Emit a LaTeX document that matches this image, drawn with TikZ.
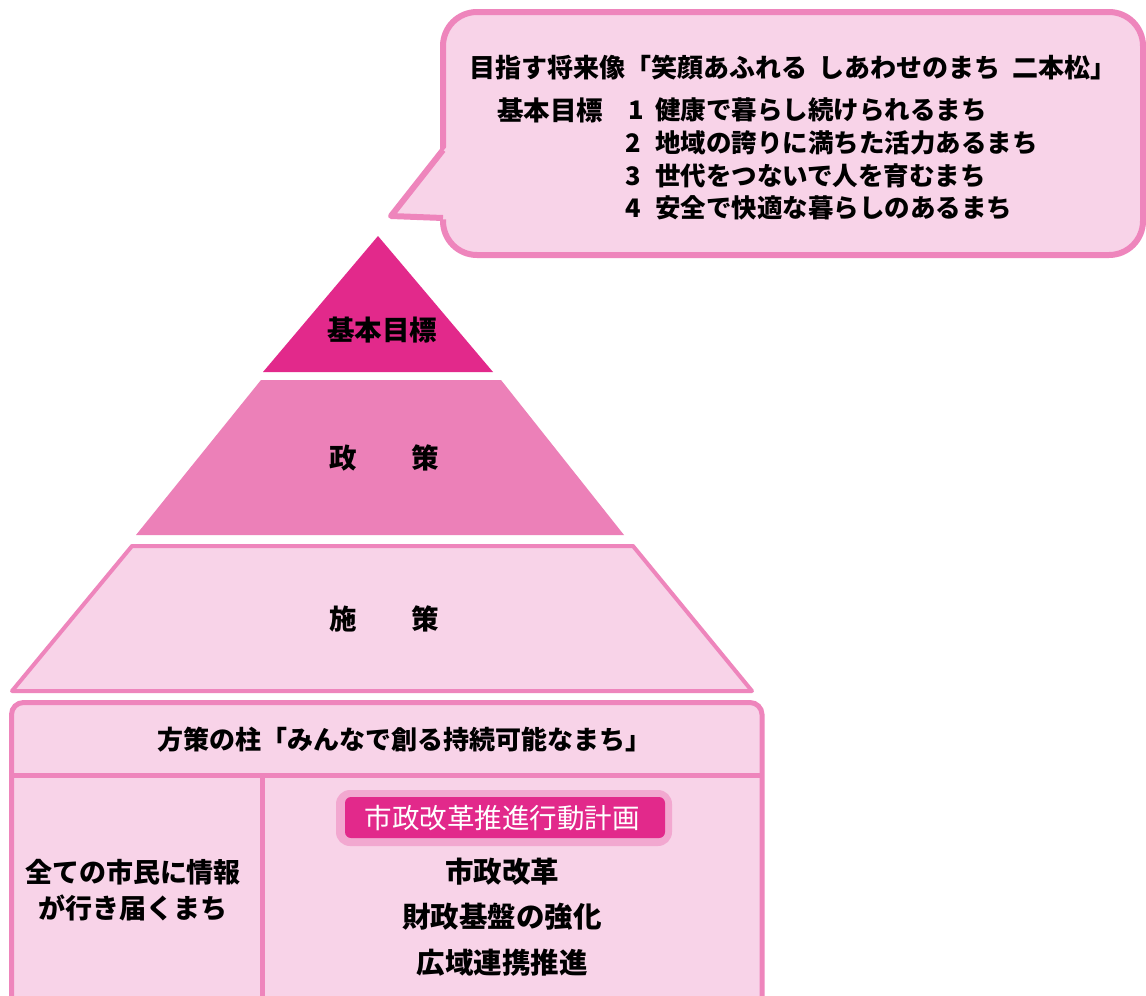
\documentclass[tikz,border=0pt]{standalone}
\usepackage{fontspec}
\setmainfont{Noto Sans CJK JP}
\definecolor{mag}{HTML}{E2298B}
\definecolor{mid}{HTML}{EC80B8}
\definecolor{lite}{HTML}{F8D3E8}
\definecolor{bord}{HTML}{EE85BC}
\definecolor{halo}{HTML}{F2A8D0}
\tikzset{
  bubble/.style={draw=bord, line width=6pt, fill=lite, rounded corners=34pt},
  boxst/.style={draw=bord, line width=5pt, fill=lite, rounded corners=12pt},
  divider/.style={draw=bord, line width=5pt},
  txt/.style={inner sep=0pt, text=black, font=\bfseries\fontsize{#1}{#1}\selectfont},
  txt/.default=25.5,
  pilltxt/.style={inner sep=0pt, text=white, font=\fontsize{27.5}{28}\selectfont}
}
\begin{document}
\begin{tikzpicture}[x=1pt,y=-1pt]
\useasboundingbox (0,0) rectangle (1146,996);
\clip (0,0) rectangle (1146,996);
\fill[white] (0,0) rectangle (1146,996);

% speech bubble
\draw[bubble] (443,12) rectangle (1143,255);
\fill[lite] (447.5,146) -- (388,216) -- (447.5,219.5) -- cycle;
\draw[bord, line width=6pt, line join=round] (443,150) -- (391,216) -- (443,218);

\node[txt=26] (vision) at (793,68) {目指す将来像「笑顔あふれる\hspace{0.45em}しあわせのまち\hspace{0.45em}二本松」};
\node[txt=26.5, anchor=west] (goalhead) at (497,110) {基本目標};
\node[txt, anchor=west] (num1) at (628,110) {1};
\node[txt, anchor=west] (goal1) at (655,110) {健康で暮らし続けられるまち};
\node[txt, anchor=west] (num2) at (625,143) {2};
\node[txt, anchor=west] (goal2) at (655,143) {地域の誇りに満ちた活力あるまち};
\node[txt, anchor=west] (num3) at (625,176) {3};
\node[txt, anchor=west] (goal3) at (655,176) {世代をつないで人を育むまち};
\node[txt, anchor=west] (num4) at (625,208) {4};
\node[txt, anchor=west] (goal4) at (655,208) {安全で快適な暮らしのあるまち};

% pyramid
\fill[mag] (378,236) -- (493,372) -- (263,372) -- cycle;
\fill[mid] (261,380) -- (501,380) -- (624,535) -- (136,535) -- cycle;
\draw[bord, line width=4pt, fill=lite, line join=round] (132,546) -- (633,546) -- (752,691) -- (12,691) -- cycle;

\node[txt=27.5] (top) at (382,330) {基本目標};
\node[txt=27.5] (mid) at (384,458) {政　　策};
\node[txt=27.5] (low) at (384,619) {施　　策};

% bottom box
\draw[boxst] (11.5,702.5) rectangle (762,1040);
\draw[divider] (11,775) -- (762,775);
\draw[divider] (262,775) -- (262,1000);

\node[txt=26] (pillar) at (404,740) {方策の柱「みんなで創る持続可能なまち」};
\node[txt=27] (left1) at (133,872) {全ての市民に情報};
\node[txt=27] (left2) at (133,908) {が行き届くまち};

\fill[halo, rounded corners=14pt] (336,790) rectangle (672,846);
\fill[mag, rounded corners=6pt] (345,797) rectangle (665,838);
\node[pilltxt] (plan) at (502,818) {市政改革推進行動計画};

\node[txt=28.5] (r1) at (502,872) {市政改革};
\node[txt=28.5] (r2) at (502,917) {財政基盤の強化};
\node[txt=28.5] (r3) at (502,963) {広域連携推進};
\end{tikzpicture}
\end{document}
